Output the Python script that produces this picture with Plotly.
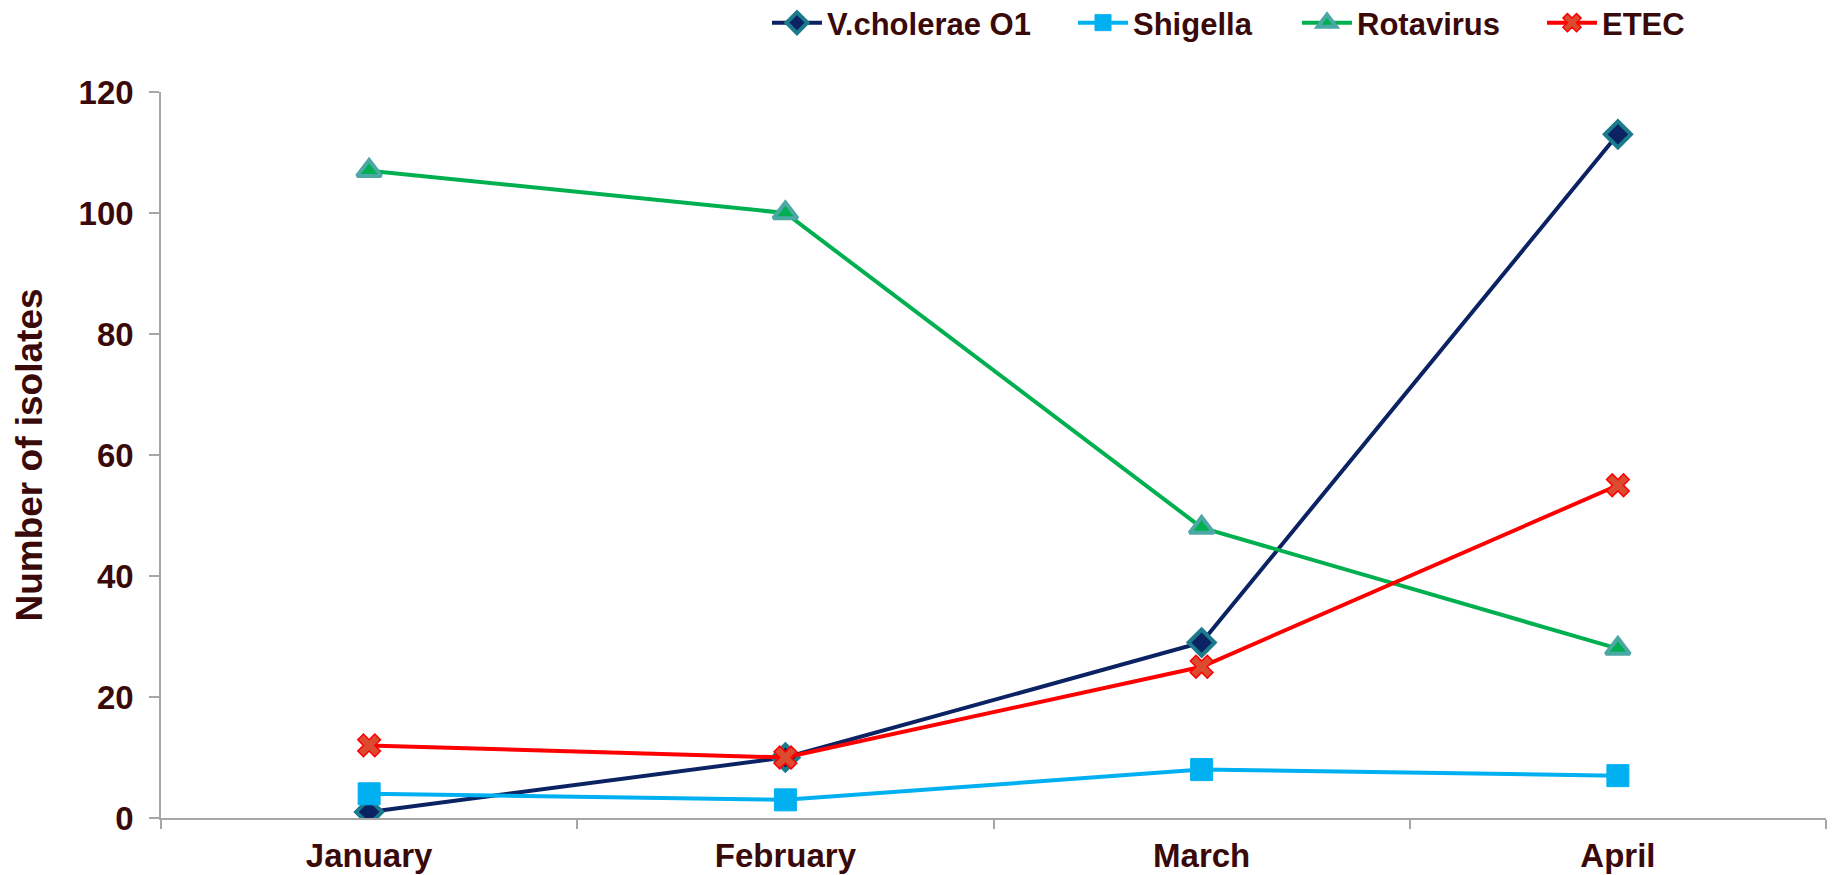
import plotly.graph_objects as go

months = ["January", "February", "March", "April"]
vcholerae = [1, 10, 29, 113]
shigella = [4, 3, 8, 7]
rotavirus = [107, 100, 48, 28]
etec = [12, 10, 25, 55]
y_ticks = [0, 20, 40, 60, 80, 100, 120]

TXT = "#3a0a0a"
FONT = "Liberation Sans, Arial, sans-serif"

L, R, T, B = 161, 15, 92, 57
PW = 1841 - L - R

def lx(px):
    return (px - L) / PW

fig = go.Figure()
fig.add_trace(go.Scatter(
    x=months, y=vcholerae, name="V.cholerae O1", mode="lines+markers", legend="legend",
    line=dict(color="#0b2263", width=4),
    marker=dict(symbol="diamond", size=20, color="#0b2263",
                line=dict(color="#1b7b8d", width=4))))
fig.add_trace(go.Scatter(
    x=months, y=shigella, name="Shigella", mode="lines+markers", legend="legend2",
    line=dict(color="#00b0f0", width=4),
    marker=dict(symbol="square", size=22, color="#00b0f0",
                line=dict(color="#00b0f0", width=1))))
fig.add_trace(go.Scatter(
    x=months, y=rotavirus, name="Rotavirus", mode="lines+markers", legend="legend3",
    line=dict(color="#00b050", width=4),
    marker=dict(symbol="triangle-up", size=21, color="#00b050",
                line=dict(color="#4ba8a4", width=4))))
fig.add_trace(go.Scatter(
    x=months, y=etec, name="ETEC", mode="lines+markers", legend="legend4",
    line=dict(color="#ff0000", width=4),
    marker=dict(symbol="x", size=20, color="#dc4a30",
                line=dict(color="#ff0000", width=1.5))))

leg_common = dict(orientation="h", xanchor="left", y=1 + (T - 23) / (875 - T - B),
                  yanchor="middle",
                  font=dict(family=FONT, size=31, color=TXT, weight="bold"),
                  itemwidth=50, bgcolor="rgba(0,0,0,0)")

fig.update_layout(
    width=1841, height=875,
    paper_bgcolor="white", plot_bgcolor="white",
    margin=dict(l=L, r=R, t=T, b=B, autoexpand=False),
    font=dict(family=FONT, color=TXT, size=33),
    showlegend=True,
    legend=dict(x=lx(767), **leg_common),
    legend2=dict(x=lx(1073), **leg_common),
    legend3=dict(x=lx(1297), **leg_common),
    legend4=dict(x=lx(1542), **leg_common),
    xaxis=dict(
        range=[-0.5, 3.5], tickson="boundaries", ticks="outside", ticklen=9,
        tickcolor="#a6a6a6", tickwidth=1.5, showline=True, linecolor="#a6a6a6",
        linewidth=1.5, showgrid=False, zeroline=False, ticklabelstandoff=8,
        tickfont=dict(family=FONT, size=33, color=TXT, weight="bold")),
    yaxis=dict(
        range=[0, 120], tickvals=y_ticks, ticks="outside", ticklen=10,
        tickcolor="#a6a6a6", tickwidth=1.5, showline=True, linecolor="#a6a6a6",
        linewidth=1.5, showgrid=False, zeroline=False, ticklabelstandoff=9,
        tickfont=dict(family=FONT, size=33, color=TXT, weight="bold"),
        title=dict(text="Number of isolates", standoff=25,
                   font=dict(family=FONT, size=37, color=TXT, weight="bold"))),
)

fig.write_html("out.html", config={"displayModeBar": False},
               post_script="document.body.style.margin='0';document.body.style.overflow='hidden';")
